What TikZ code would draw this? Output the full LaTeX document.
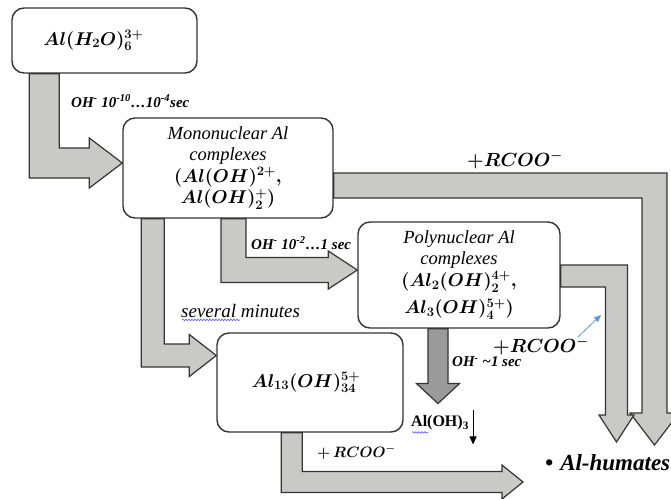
\documentclass[tikz,border=0pt]{standalone}
\usepackage{fix-cm}
\usepackage{fontspec}
\setmainfont{Liberation Serif}
\usetikzlibrary{calc,arrows.meta,decorations.pathmorphing}
\definecolor{bandGray}{HTML}{C9C9C7}
\definecolor{darkBand}{HTML}{9A9A9A}
\definecolor{edgeGray}{HTML}{353535}
\definecolor{tipBlue}{HTML}{5B9BD5}
% block arrow: down from #2, then right to tip #3 (half band #4, half head #5, head length #6)
\newcommand{\bandDR}[6]{\draw[#1] let \p1=(#2), \p2=(#3) in
  (\x1-#4pt,\y1) -- (\x1-#4pt,\y2-#4pt) -- (\x2-#6pt,\y2-#4pt) -- (\x2-#6pt,\y2-#5pt)
  -- (\p2) -- (\x2-#6pt,\y2+#5pt) -- (\x2-#6pt,\y2+#4pt) -- (\x1+#4pt,\y2+#4pt)
  -- (\x1+#4pt,\y1) -- cycle;}
% block arrow: right from #2, then down to tip #3
\newcommand{\bandRD}[6]{\draw[#1] let \p1=(#2), \p2=(#3) in
  (\x1,\y1+#4pt) -- (\x2+#4pt,\y1+#4pt) -- (\x2+#4pt,\y2+#6pt) -- (\x2+#5pt,\y2+#6pt)
  -- (\p2) -- (\x2-#5pt,\y2+#6pt) -- (\x2-#4pt,\y2+#6pt) -- (\x2-#4pt,\y1-#4pt)
  -- (\x1,\y1-#4pt) -- cycle;}

\begin{document}
\begin{tikzpicture}[x=1pt, y=-1pt,
  box/.style={draw=edgeGray, line width=1.4pt, rounded corners=12pt, fill=white,
    align=center, inner sep=0pt, font=\boldmath\fontsize{18.5}{21.5}\selectfont},
  band/.style={draw=edgeGray, line width=1.2pt, fill=bandGray},
  tag/.style={font=\bfseries\itshape\fontsize{15}{17}\selectfont, inner sep=1pt},
  rcoo/.style={font=\boldmath\fontsize{19}{22}\selectfont, inner sep=1pt},
  wavy/.style={draw=blue!65, line width=0.6pt, decorate,
    decoration={snake, amplitude=0.8pt, segment length=3pt}}
]
  \fill[white] (0,0) rectangle (671,498);
  \useasboundingbox (0,0) rectangle (671,498);

  % species
  \node[box, minimum width=185, minimum height=65] (hydr) at (104.5,40.5)
    {\hspace*{-22pt}$Al(H_2O)_6^{3+}$};
  \node[box, minimum width=210, minimum height=100] (mono) at (228,168) {
    \textit{Mononuclear Al}\\
    \textit{complexes}\\
    $(Al(OH)^{2+},$\\
    $Al(OH)_2^{+})$
  };
  \node[box, minimum width=202, minimum height=106] (poly) at (459,275) {
    \textit{Polynuclear Al}\\
    \textit{complexes}\\
    $(Al_2(OH)_2^{4+},$\\[6pt]
    $Al_3(OH)_4^{5+})$
  };
  \node[box, minimum width=186, minimum height=99] (al13) at (310,382.5)
    {\hspace*{-8pt}$Al_{13}(OH)_{34}^{5+}$};
  \node[anchor=west, inner sep=0pt, font=\bfseries\itshape\fontsize{23}{25}\selectfont]
    (hum) at (545,463) {•\hspace{7pt}Al-humates};
  \node[anchor=west, inner sep=0pt, font=\bfseries\fontsize{16}{18}\selectfont]
    (hyd) at (411,423) {Al(OH)\textsubscript{3}};

  % free ends
  \coordinate (s1) at ($(hydr.south west)+(33,0)$);
  \coordinate (t1) at ($(mono.west)+(0,-5)$);
  \coordinate (s2) at ($(mono.south)+(5.5,0)$);
  \coordinate (t2) at ($(poly.west)+(0,-5)$);
  \coordinate (s3) at ($(mono.south west)+(30.5,0)$);
  \coordinate (t3) at ($(al13.west)+(0,-27)$);
  \coordinate (s4) at ($(al13.south west)+(75.5,0)$);
  \coordinate (t4) at ($(hum.west)+(-22,19)$);
  \coordinate (s5) at ($(mono.east)+(0,17.5)$);
  \coordinate (t5) at ($(hum.west)+(109.5,-18)$);
  \coordinate (s6) at ($(poly.east)+(0,1)$);
  \coordinate (t6) at ($(hum.west)+(71.5,-21)$);
  \coordinate (s7) at ($(poly.south)+(-21,0)$);
  \coordinate (t7) at ($(hyd.north west)+(27,-12)$);

  % block arrows
  \bandDR{band}{s1}{t1}{15}{25}{33}
  \bandDR{band}{s2}{t2}{12.5}{19}{29}
  \bandDR{band}{s3}{t3}{11.5}{21}{27}
  \bandDR{band}{s4}{t4}{10.5}{17}{21}
  \bandRD{band}{s5}{t5}{12.5}{24.5}{32}
  \bandRD{band}{s6}{t6}{11}{17.5}{27}
  \draw[band, fill=darkBand] let \p1=(s7), \p2=(t7) in
    (\x1-10pt,\y1) -- (\x1-10pt,\y2+20pt) -- (\x1-21.5pt,\y2+20pt) -- (\p2)
    -- (\x1+21.5pt,\y2+20pt) -- (\x1+10pt,\y2+20pt) -- (\x1+10pt,\y1) -- cycle;

  % conditions
  \node[tag, anchor=west] (c1) at (70,101)
    {OH\textsuperscript{-} 10\textsuperscript{-10}…10\textsuperscript{-4}sec};
  \node[tag, anchor=west] (c2) at (250,243)
    {OH\textsuperscript{-} 10\textsuperscript{-2}…1 sec};
  \node[anchor=west, inner sep=1pt, font=\itshape\fontsize{19}{21}\selectfont] (c3) at (180,311) {several minutes};
  \node[tag, anchor=west] (c4) at (451,362) {OH\textsuperscript{-} \textasciitilde1 sec};
  \node[rcoo] (rc1) at (515,160) {$+RCOO^{-}$};
  \node[rcoo] (rc2) at (541,346) {$+RCOO^{-}$};
  \node[rcoo, anchor=west, font=\boldmath\fontsize{15}{17}\selectfont] (rc3) at (316,452) {$+\,RCOO^{-}$};

  \draw[wavy] ($(c3.south west)+(2,1)$) -- ++(58,0);
  \draw[wavy] ($(hyd.south west)+(1,2)$) -- ++(16,0);
  \draw[-{Triangle[length=8pt,width=7pt]}, line width=0.9pt]
    ($(hyd.north east)+(4,-6)$) -- ($(hyd.south east)+(4,14)$);
  \coordinate (blueEnd) at (601,315);
  \draw[-{Triangle[length=7pt,width=6pt]}, tipBlue, line width=0.8pt]
    ($(rc2.north east)+(-12,1)$) -- (blueEnd);
\end{tikzpicture}
\end{document}
